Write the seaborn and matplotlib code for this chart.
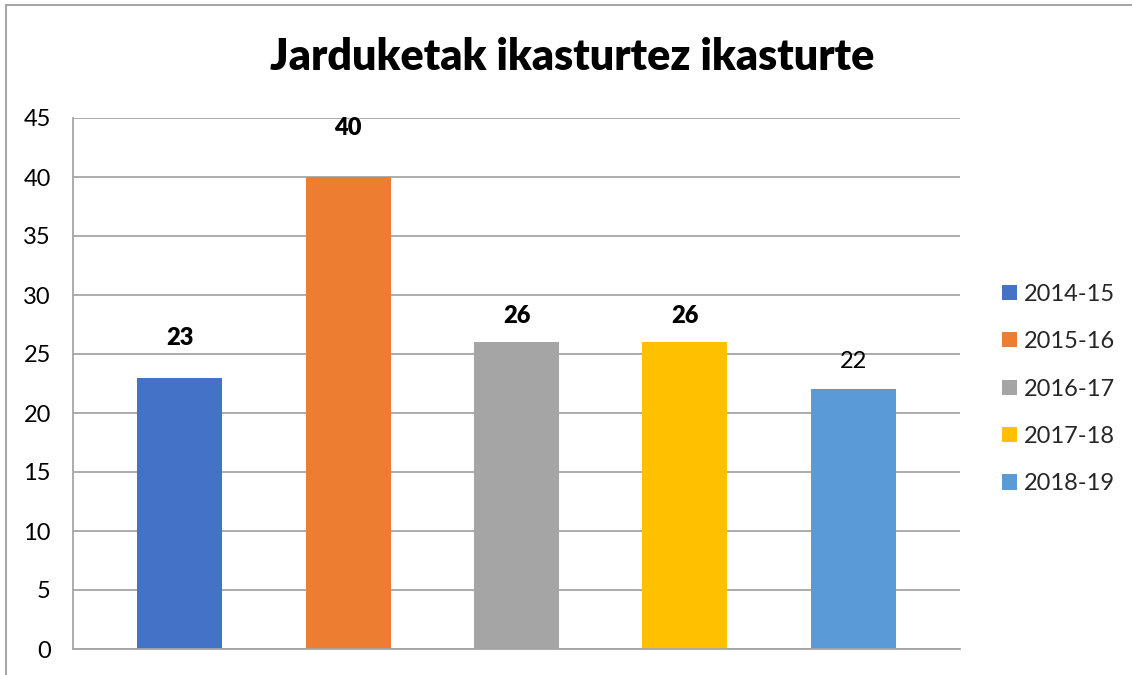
import matplotlib
matplotlib.use('Agg')
import matplotlib.pyplot as plt
from matplotlib.lines import Line2D
import seaborn as sns

# data
years = ['2014-15', '2015-16', '2016-17', '2017-18', '2018-19']
counts = [23, 40, 26, 26, 22]
colors = ['#4472C4', '#ED7D31', '#A5A5A5', '#FFC000', '#5B9BD5']
bold_labels = [True, True, True, True, False]
label_offsets_px = [40, 49, 26, 26, 28]

sns.set_theme(style='white')
plt.rcParams['font.family'] = ['Lato', 'DejaVu Sans']

fig = plt.figure(figsize=(11.32, 6.75), dpi=100)
ax = fig.add_axes([73 / 1132, 26 / 675, 887 / 1132, 531 / 675])

sns.barplot(x=years, y=counts, hue=years, palette=colors, width=0.504,
            saturation=1, legend=True, linewidth=0, ax=ax)

ax.set_ylim(0, 45)
ax.set_xlim(-0.635, 4.635)
ax.set_yticks(range(0, 46, 5))
ax.yaxis.grid(True, color='#a6a6a6', linewidth=1.3)
ax.set_axisbelow(True)
ax.tick_params(axis='y', labelsize=17, length=0, pad=16, labelcolor='black')
ax.tick_params(axis='x', length=0, labelbottom=False)
ax.set_xlabel('')
ax.set_ylabel('')
for side in ['top', 'right']:
    ax.spines[side].set_visible(False)
for side in ['left', 'bottom']:
    ax.spines[side].set_color('#a6a6a6')
    ax.spines[side].set_linewidth(1.3)

for i, (v, b, off) in enumerate(zip(counts, bold_labels, label_offsets_px)):
    ax.annotate(str(v), (i, v), xytext=(0, off * 0.72), textcoords='offset points',
                ha='center', va='center', fontsize=17,
                fontweight='heavy' if b else 'normal', color='black')

handles, labels = ax.get_legend_handles_labels()
ax.legend(handles, labels, loc='center left', bbox_to_anchor=(1002 / 1132, 286 / 675),
          bbox_transform=fig.transFigure, frameon=False, fontsize=17,
          handlelength=0.62, handleheight=0.62, handletextpad=0.3,
          labelspacing=1.12, borderpad=0, borderaxespad=0)

fig.text(572 / 1132, 1 - 57 / 675, 'Jarduketak ikasturtez ikasturte',
         ha='center', va='center', fontsize=31, fontweight='heavy', color='black')

# outer chart border (top and left edges visible)
fig.add_artist(Line2D([6 / 1132, 6 / 1132], [0, 1 - 5 / 675], transform=fig.transFigure,
                      color='#a6a6a6', linewidth=1.5))
fig.add_artist(Line2D([6 / 1132, 1], [1 - 5 / 675, 1 - 5 / 675], transform=fig.transFigure,
                      color='#a6a6a6', linewidth=1.5))

fig.savefig('out.png', dpi=100)
